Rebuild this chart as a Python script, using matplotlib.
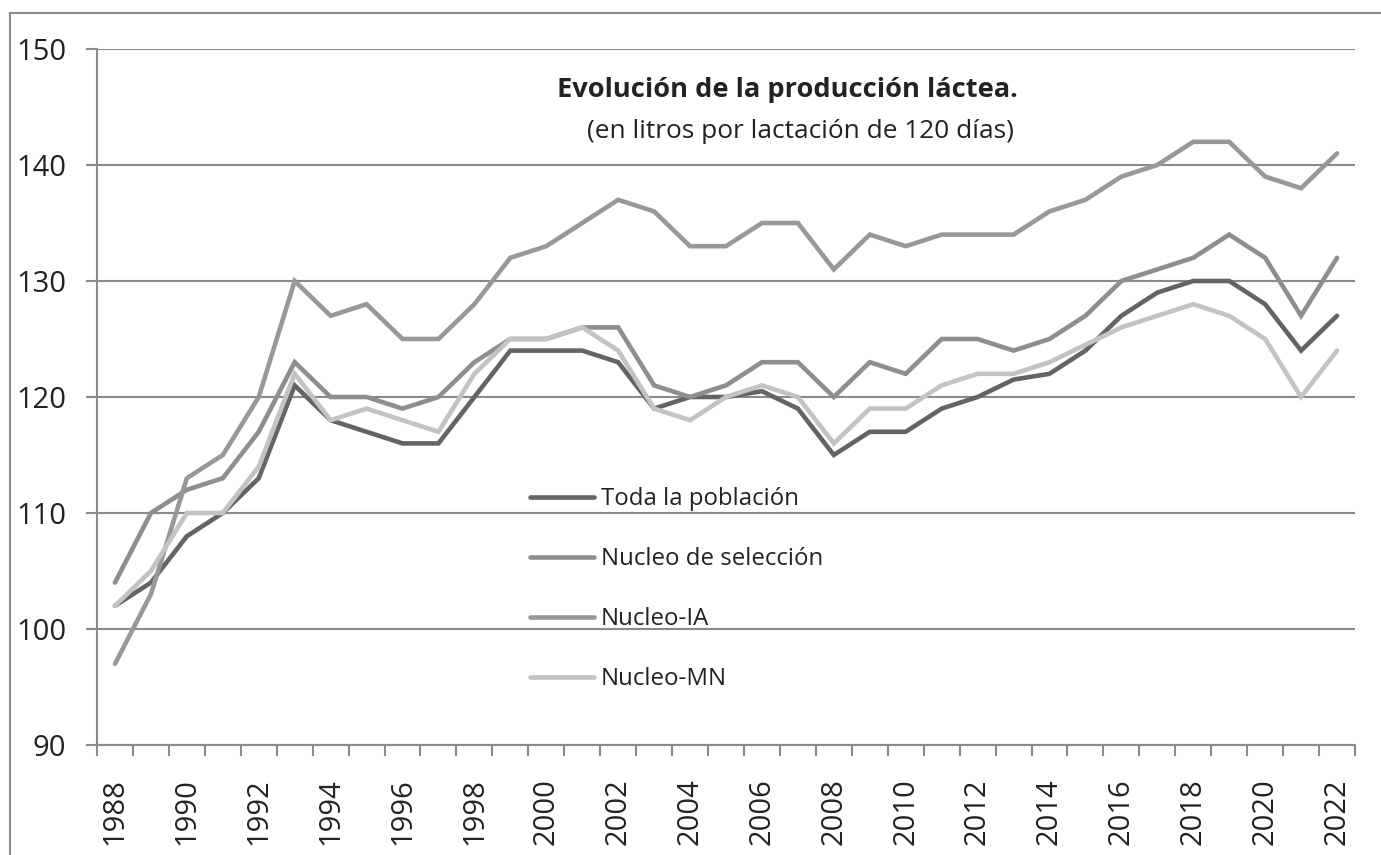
import matplotlib
matplotlib.use("Agg")
import matplotlib.pyplot as plt
from matplotlib.lines import Line2D
from matplotlib.ticker import FixedLocator

plt.rcParams['font.family'] = ['Open Sans', 'DejaVu Sans']

years = list(range(1988, 2023))
toda = [102, 104, 108, 110, 113, 121, 118, 117, 116, 116, 120, 124, 124, 124, 123,
        119, 120, 120, 120.5, 119, 115, 117, 117, 119, 120, 121.5, 122, 124, 127,
        129, 130, 130, 128, 124, 127]
seleccion = [104, 110, 112, 113, 117, 123, 120, 120, 119, 120, 123, 125, 125, 126, 126,
             121, 120, 121, 123, 123, 120, 123, 122, 125, 125, 124, 125, 127, 130,
             131, 132, 134, 132, 127, 132]
nucleo_ia = [97, 103, 113, 115, 120, 130, 127, 128, 125, 125, 128, 132, 133, 135, 137,
             136, 133, 133, 135, 135, 131, 134, 133, 134, 134, 134, 136, 137, 139,
             140, 142, 142, 139, 138, 141]
nucleo_mn = [102, 105, 110, 110, 114, 122, 118, 119, 118, 117, 122, 125, 125, 126, 124,
             119, 118, 120, 121, 120, 116, 119, 119, 121, 122, 122, 123, 124.5, 126,
             127, 128, 127, 125, 120, 124]
labels = ["Toda la población", "Nucleo de selección", "Nucleo-IA", "Nucleo-MN"]
colors = ["#646464", "#8e8e8e", "#989898", "#c3c3c3"]
yticks = [90, 100, 110, 120, 130, 140, 150]

W, H = 1381, 855
fig = plt.figure(figsize=(W / 100, H / 100), dpi=100)
ax = fig.add_axes([97 / W, 1 - 745 / H, (1355 - 97) / W, (745 - 49) / H])

for series, lab, col in zip([toda, seleccion, nucleo_ia, nucleo_mn], labels, colors):
    ax.plot(years, series, color=col, lw=3.3, label=lab, solid_joinstyle='miter',
            solid_capstyle='round')

ax.set_xlim(years[0] - 0.5, years[-1] + 0.5)
ax.set_ylim(yticks[0], yticks[-1])
ax.set_yticks(yticks)
ax.yaxis.grid(True, color="#8a8a8a", lw=1.5)
ax.set_axisbelow(True)
for s in ['top', 'right']:
    ax.spines[s].set_visible(False)
for s in ['left', 'bottom']:
    ax.spines[s].set_color("#8a8a8a")
    ax.spines[s].set_linewidth(1.5)

ax.set_xticks([y for y in years if y % 2 == 0])
ax.set_xticklabels([str(y) for y in years if y % 2 == 0], rotation=90)
ax.xaxis.set_minor_locator(FixedLocator([y - 0.5 for y in years] + [years[-1] + 0.5]))
ax.tick_params(axis='x', which='major', length=0, pad=24, labelsize=21, colors="#222222")
ax.tick_params(axis='x', which='minor', length=8, width=1.5, color="#8a8a8a")
ax.tick_params(axis='y', which='major', length=8, width=1.5, color="#8a8a8a",
               pad=14, labelsize=21, labelcolor="#222222")

fig.text(787 / W, 1 - 90 / H, "Evolución de la producción láctea.", ha='center', va='center',
         fontsize=19.6, fontweight='bold', color="#222222")
fig.text(800 / W, 1 - 131 / H, "(en litros por lactación de 120 días)", ha='center',
         va='center', fontsize=18.9, color="#222222")

leg = ax.legend(loc='upper left', bbox_to_anchor=((530 - 97) / 1258, (745 - 487) / 696),
                frameon=False, fontsize=17.3, handlelength=2.65, handletextpad=0.3,
                labelspacing=1.5, borderpad=0, borderaxespad=0)
for t in leg.get_texts():
    t.set_color("#222222")

fig.add_artist(Line2D([10 / W, 10 / W], [0, 1 - 13 / H], transform=fig.transFigure,
                      color="#8a8a8a", lw=1.5))
fig.add_artist(Line2D([10 / W, 1], [1 - 13 / H, 1 - 13 / H], transform=fig.transFigure,
                      color="#8a8a8a", lw=1.5))

fig.savefig("out.png", dpi=100)
